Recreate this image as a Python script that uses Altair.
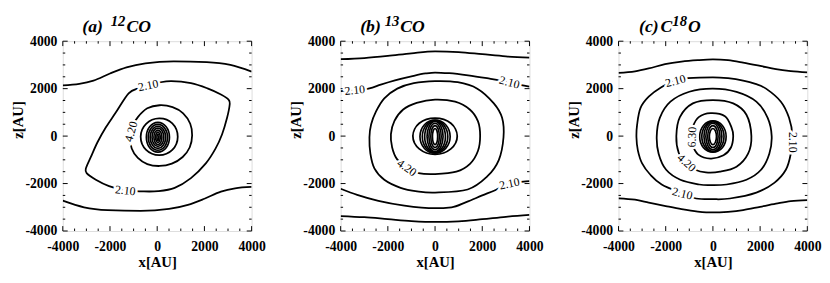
import altair as alt
import pandas as pd

# ---------------------------------------------------------------- data
# Contour lines; coordinates in AU, (x, z)

# panel (a) 12CO
A_OPEN = {
    "a_top": [(-4000, 2140), (-3300, 2200), (-2700, 2340), (-2000, 2640), (-1300, 2900),
              (-500, 3070), (700, 3150), (2100, 3120), (3100, 3000), (4000, 2720)],
    "a_bot": [(-4000, -2720), (-3100, -3000), (-2100, -3120), (-700, -3150), (500, -3070),
              (1300, -2900), (2000, -2640), (2700, -2340), (3300, -2200), (4000, -2140)],
}
A_LOOPS = {
    "a_210": [(-1210, 1800), (-790, 2020), (-380, 2150), (40, 2250), (600, 2320), (1430, 2230),
              (2130, 2010), (2680, 1760), (3030, 1530), (3070, 1320), (2960, 770), (2750, 80),
              (2470, -530), (2060, -1150), (1430, -1770), (740, -2180), (40, -2320),
              (-650, -2330), (-1350, -2290), (-2040, -2110), (-2600, -1840), (-2990, -1560),
              (-3020, -1360), (-2810, -880), (-2530, -260), (-2180, 360), (-1770, 970)],
    "a_420": [(100, 1300), (650, 1220), (1100, 960), (1400, 520), (1480, 30), (1380, -470),
              (1080, -880), (620, -1160), (100, -1260), (-420, -1180), (-820, -920),
              (-1080, -520), (-1150, -20), (-1060, 400), (-820, 800), (-420, 1170)],
    "a_ring": [(85, 750), (640, 540), (870, -25), (640, -580), (85, -800), (-470, -580),
               (-700, -25), (-470, 520)],
}
A_CORE = {
    "a_c1": [(30, 575), (380, 390), (520, -50), (380, -490), (30, -675), (-320, -490), (-460, -50), (-320, 390)],
    "a_c2": [(30, 495), (320, 335), (440, -50), (320, -435), (30, -595), (-260, -435), (-380, -50), (-260, 335)],
    "a_c3": [(30, 415), (260, 280), (360, -50), (260, -380), (30, -515), (-200, -380), (-300, -50), (-200, 280)],
    "a_c4": [(30, 335), (205, 225), (280, -50), (205, -325), (30, -435), (-145, -325), (-220, -50), (-145, 225)],
    "a_c5": [(30, 255), (150, 165), (200, -50), (150, -265), (30, -355), (-90, -265), (-140, -50), (-90, 165)],
    "a_c6": [(30, 170), (100, 100), (130, -50), (100, -200), (30, -270), (-40, -200), (-70, -50), (-40, 100)],
    "a_c7": [(30, 90), (60, 40), (70, -50), (60, -140), (30, -190), (0, -140), (-10, -50), (0, 40)],
}
A_LABELS = [("2.10", -380, 2140, 348), ("2.10", -1350, -2290, 6), ("4.20", -1110, 190, 285)]

# panel (b) 13CO
B_OPEN = {
    "b_top1": [(-4000, 3240), (-3000, 3290), (-2000, 3380), (-1000, 3490), (0, 3570),
               (1000, 3540), (2000, 3450), (3000, 3360), (4000, 3310)],
    "b_top2": [(-4000, 1900), (-3400, 1940), (-2780, 2010), (-2300, 2170), (-1700, 2350),
               (-1000, 2520), (-400, 2640), (0, 2680), (600, 2650), (1400, 2560),
               (2200, 2440), (2800, 2340), (3300, 2220), (4000, 2080)],
    "b_bot2": [(-4000, -2220), (-3300, -2480), (-2400, -2730), (-1300, -2930), (0, -3040),
               (700, -3000), (1320, -2780), (2000, -2500), (2570, -2270), (3150, -2000),
               (3750, -1920), (4000, -1900)],
    "b_bot1": [(-4000, -3370), (-3000, -3420), (-2000, -3500), (-1000, -3580), (0, -3620),
               (1000, -3590), (2000, -3500), (3000, -3400), (4000, -3320)],
}
B_LOOPS = {
    "b_3": [(0, 2315), (-900, 2230), (-1600, 2000), (-2150, 1590), (-2500, 1040), (-2710, 490),
            (-2780, -50), (-2740, -740), (-2570, -1360), (-2150, -1840), (-1460, -2180),
            (-760, -2330), (0, -2380), (1380, -2250), (2210, -1700), (2700, -1010),
            (2900, -50), (2840, 770), (2490, 1380), (1790, 2000), (960, 2270)],
    "b_420": [(0, 1540), (-780, 1400), (-1350, 1120), (-1720, 640), (-1870, 80), (-1820, -470),
              (-1620, -960), (-1200, -1330), (-700, -1560), (0, -1600), (900, -1500),
              (1480, -1170), (1820, -620), (1910, 0), (1820, 620), (1470, 1120), (850, 1450)],
    "b_ring": [(0, 760), (670, 540), (940, 0), (670, -540), (0, -770), (-670, -540), (-940, 0), (-670, 540)],
}
B_CORE = {
    "b_c1": [(0, 680), (450, 480), (640, -20), (450, -520), (0, -720), (-450, -520), (-640, -20), (-450, 480)],
    "b_c2": [(0, 660), (380, 460), (540, -20), (380, -500), (0, -700), (-380, -500), (-540, -20), (-380, 460)],
    "b_c3": [(0, 640), (310, 450), (440, -20), (310, -490), (0, -680), (-310, -490), (-440, -20), (-310, 450)],
    "b_c4": [(0, 620), (240, 430), (340, -20), (240, -470), (0, -660), (-240, -470), (-340, -20), (-240, 430)],
    "b_c5": [(0, 540), (185, 375), (260, -20), (185, -415), (0, -580), (-185, -415), (-260, -20), (-185, 375)],
    "b_c6": [(0, 440), (130, 305), (180, -20), (130, -345), (0, -480), (-130, -345), (-180, -20), (-130, 305)],
    "b_c7": [(0, 320), (80, 220), (110, -20), (80, -260), (0, -360), (-80, -260), (-110, -20), (-80, 220)],
}
B_LABELS = [("2.10", -3400, 1940, 354), ("2.10", 3150, 2270, 15), ("2.10", 3150, -2000, 348),
            ("4.20", -1190, -1330, 35)]

# panel (c) C18O
C_OPEN = {
    "c_top": [(-4000, 2660), (-3300, 2730), (-2720, 2850), (-2030, 3030), (-1330, 3140),
              (-640, 3200), (0, 3230), (640, 3200), (1280, 3100), (2000, 2960), (2670, 2820),
              (3300, 2740), (4000, 2690)],
    "c_bot": [(-4000, -2620), (-3300, -2680), (-2720, -2800), (-2000, -2950), (-1330, -3080),
              (-640, -3180), (0, -3220), (640, -3190), (1280, -3120), (2000, -2980),
              (2670, -2850), (3300, -2740), (4000, -2700)],
}
C_LOOPS = {
    "c_210": [(0, 2480), (640, 2440), (1280, 2340), (1800, 2200), (2250, 2000), (2880, 1450),
              (3225, 770), (3370, 0), (3300, -740), (3090, -1420), (2600, -1970), (1840, -2380),
              (720, -2630), (0, -2660), (-710, -2630), (-1290, -2420), (-2170, -2040),
              (-2650, -1630), (-3000, -1150), (-3180, -600), (-3240, -50), (-3210, 490),
              (-3070, 1180), (-2720, 1660), (-2170, 2070), (-1590, 2340), (-1060, 2440)],
    "c_3": [(0, 2000), (1000, 1860), (1840, 1450), (2320, 770), (2490, 0), (2390, -740),
            (2040, -1420), (1420, -1840), (580, -2040), (-100, -2070), (-580, -2040),
            (-1380, -1840), (-1980, -1420), (-2300, -740), (-2380, 0), (-2250, 770),
            (-1800, 1450), (-1000, 1870)],
    "c_420": [(0, 1520), (860, 1380), (1420, 900), (1630, 0), (1490, -740), (1000, -1290),
              (300, -1500), (-300, -1530), (-750, -1420), (-1150, -1130), (-1450, -700),
              (-1550, 0), (-1400, 800), (-850, 1380)],
    "c_630": [(-100, 970), (510, 840), (790, 360), (860, 0), (770, -470), (450, -810),
              (-100, -945), (-620, -780), (-880, -350), (-920, 0), (-850, 400), (-600, 800)],
}
C_CORE = {
    "c_c1": [(0, 640), (400, 450), (560, -20), (400, -490), (0, -680), (-400, -490), (-560, -20), (-400, 450)],
    "c_c2": [(0, 620), (330, 430), (470, -20), (330, -470), (0, -660), (-330, -470), (-470, -20), (-330, 430)],
    "c_c3": [(0, 600), (270, 420), (380, -20), (270, -460), (0, -640), (-270, -460), (-380, -20), (-270, 420)],
    "c_c4": [(0, 540), (210, 375), (300, -20), (210, -415), (0, -580), (-210, -415), (-300, -20), (-210, 375)],
    "c_c5": [(0, 440), (155, 305), (220, -20), (155, -345), (0, -480), (-155, -345), (-220, -20), (-155, 305)],
    "c_c6": [(0, 320), (105, 220), (150, -20), (105, -260), (0, -360), (-105, -260), (-150, -20), (-105, 220)],
}
C_LABELS = [("2.10", -1590, 2330, 345), ("2.10", -1290, -2420, 14), ("2.10", 3380, -260, 90),
            ("4.20", -1110, -1120, 42), ("6.30", -890, -40, 272)]

MAJOR_TICKS = [-4000, -2000, 0, 2000, 4000]
MINOR_TICKS = [-3500, -3000, -2500, -1500, -1000, -500, 500, 1000, 1500, 2500, 3000, 3500]

TITLES = {
    "a": [("(a)", "main"), ("12", "sup"), ("CO", "main")],
    "b": [("(b)", "main"), ("13", "sup"), ("CO", "main")],
    "c": [("(c)", "main"), ("C", "main"), ("18", "sup"), ("O", "main")],
}

# ---------------------------------------------------------------- layout / style
W, H = 193, 194
FONT = "Liberation Serif, Times New Roman, serif"
TITLE_X = {"a": [20, 49, 65], "b": [20, 45, 61], "c": [21, 43, 55, 71]}

XS = alt.Scale(domain=[-4000, 4000], nice=False, zero=False)
ZS = alt.Scale(domain=[-4000, 4000], nice=False, zero=False)
XAXIS = alt.Axis(values=MAJOR_TICKS, title="x[AU]", ticks=False, domain=False, grid=False,
                 labelFont=FONT, labelFontWeight="bold", labelFontSize=14, labelColor="black",
                 labelPadding=9, labelFlush=False, labelOverlap=False,
                 labelExpr="'' + datum.value",
                 titleFont=FONT, titleFontWeight="bold", titleFontSize=15, titleColor="black",
                 titlePadding=1)
ZAXIS = alt.Axis(values=MAJOR_TICKS, title="z[AU]", ticks=False, domain=False, grid=False,
                 labelFont=FONT, labelFontWeight="bold", labelFontSize=14, labelColor="black",
                 labelPadding=6, labelFlush=False, labelOverlap=False,
                 labelExpr="'' + datum.value",
                 titleFont=FONT, titleFontWeight="bold", titleFontSize=15, titleColor="black",
                 titleAngle=270, titleX=-46, titleY=80, titleAlign="center", titleBaseline="middle")


def to_df(groups):
    rows = []
    for name, pts in groups.items():
        for k, (x, z) in enumerate(pts):
            rows.append({"cid": name, "k": k, "x": x, "z": z})
    return pd.DataFrame(rows)


def make_panel(key, open_l, loops, core, labels):
    X = alt.X("x:Q", scale=XS, axis=XAXIS)
    Z = alt.Y("z:Q", scale=ZS, axis=ZAXIS)
    layers = []
    if open_l:
        layers.append(alt.Chart(to_df(open_l)).mark_line(
            color="black", strokeWidth=1.8, interpolate="monotone", clip=True
        ).encode(x=X, y=Z, detail="cid:N", order="k:Q"))
    layers.append(alt.Chart(to_df(loops)).mark_line(
        color="black", strokeWidth=1.8, interpolate="cardinal-closed", clip=True
    ).encode(x=X, y=Z, detail="cid:N", order="k:Q"))
    layers.append(alt.Chart(to_df(core)).mark_line(
        color="black", strokeWidth=1.7, interpolate="cardinal-closed", clip=True
    ).encode(x=X, y=Z, detail="cid:N", order="k:Q"))

    # inward ticks on all four sides
    for vals, L in ((MAJOR_TICKS, 5), (MINOR_TICKS, 2.5)):
        tdf = pd.DataFrame({"x": vals, "z": vals})
        base = alt.Chart(tdf).mark_rule(color="black", strokeWidth=1)
        layers.append(base.encode(x=X, y=alt.value(0), y2=alt.value(L)))
        layers.append(base.encode(x=X, y=alt.value(H), y2=alt.value(H - L)))
        layers.append(base.encode(y=Z, x=alt.value(0), x2=alt.value(L)))
        layers.append(base.encode(y=Z, x=alt.value(W), x2=alt.value(W - L)))

    ldf = pd.DataFrame(labels, columns=["t", "x", "z", "ang"])
    layers.append(alt.Chart(ldf).mark_text(
        font=FONT, fontSize=12, color="white", stroke="white", strokeWidth=5,
        align="center", baseline="middle"
    ).encode(x=X, y=Z, text="t:N", angle=alt.Angle("ang:Q", scale=None)))
    layers.append(alt.Chart(ldf).mark_text(
        font=FONT, fontSize=12, color="black", align="center", baseline="middle"
    ).encode(x=X, y=Z, text="t:N", angle=alt.Angle("ang:Q", scale=None)))

    for (txt, kind), xo in zip(TITLES[key], TITLE_X[key]):
        tdf = pd.DataFrame({"t": [txt]})
        size, yo = (18, -9) if kind == "main" else (15, -16)
        layers.append(alt.Chart(tdf).mark_text(
            font=FONT, fontStyle="italic", fontWeight="bold", fontSize=size,
            color="black", align="left", baseline="alphabetic"
        ).encode(text="t:N", x=alt.value(xo), y=alt.value(yo)))

    return alt.layer(*layers).properties(width=W, height=H)


pa = make_panel("a", A_OPEN, A_LOOPS, A_CORE, A_LABELS)
pb = make_panel("b", B_OPEN, B_LOOPS, B_CORE, B_LABELS)
pc = make_panel("c", C_OPEN, C_LOOPS, C_CORE, C_LABELS)

chart = alt.hconcat(pa, pb, pc, spacing=22).properties(
    padding={"left": 2, "top": 2, "right": 0, "bottom": 0}
).configure_view(stroke="black", strokeWidth=2).configure(background="white")

chart.save("out.html", embed_options={"renderer": "svg", "actions": False})
